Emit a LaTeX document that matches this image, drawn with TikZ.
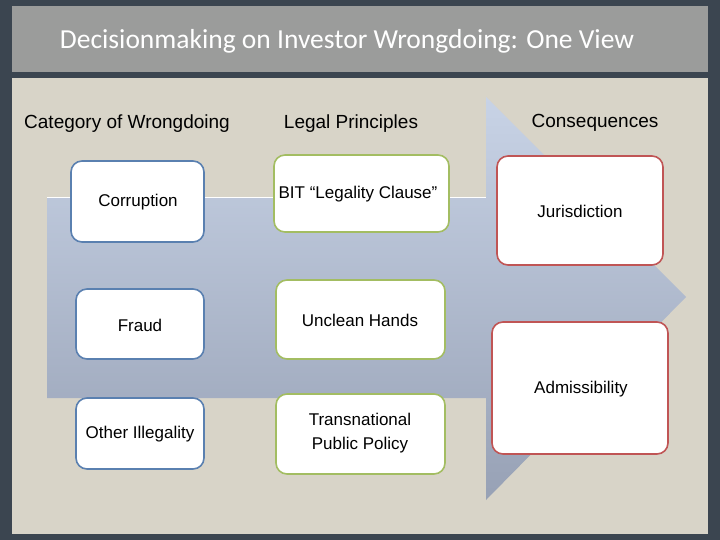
\documentclass[tikz,border=0pt]{standalone}
\usepackage{fontspec}
\setmainfont{Liberation Sans}
\newfontfamily\titlefont{Carlito}
\definecolor{frame}{HTML}{3B4550}
\definecolor{titlebar}{HTML}{9B9C9B}
\definecolor{content}{HTML}{D8D4C8}
\definecolor{arrtop}{HTML}{C8D3E6}
\definecolor{arrbot}{HTML}{97A1B5}
\definecolor{bblue}{HTML}{5A80B0}
\definecolor{bgreen}{HTML}{A3BD62}
\definecolor{bred}{HTML}{C05555}
\tikzset{
 box/.style={draw, line width=1.6pt, fill=white, rounded corners=11pt},
 lbl/.style={font=\fontsize{17}{20}\selectfont, align=center},
 hdr/.style={font=\fontsize{19}{22}\selectfont},
}
\begin{document}
\begin{tikzpicture}[x=1pt,y=-1pt]
\fill[frame] (0,0) rectangle (720,540);
\fill[titlebar] (12,6) rectangle (708,72);
\fill[content] (12,78) rectangle (708,534);
\node[text=white, font=\titlefont\fontsize{27.5}{32}\selectfont] (title) at (347,41) {Decisionmaking on Investor Wrongdoing: One View};
\shade[top color=arrtop, bottom color=arrbot] (47,198) -- (486,198) -- (486,97) -- (686,297) -- (486,500) -- (486,398) -- (47,398) -- cycle;
\draw[white, line width=1pt] (47,198) -- (486,198);
\node[hdr] (h1) at (127,124) {Category of Wrongdoing};
\node[hdr] (h2) at (351,124) {Legal Principles};
\node[hdr] (h3) at (595,123) {Consequences};
\draw[box, draw=bblue] (71,161) rectangle (204,242);
\node[lbl] (c1) at (138,202) {Corruption};
\draw[box, draw=bblue] (76,289) rectangle (204,359);
\node[lbl] (c2) at (140,325) {Fraud};
\draw[box, draw=bblue] (76,398) rectangle (204,469);
\node[lbl] (c3) at (140,434) {Other Illegality};
\draw[box, draw=bgreen] (274,155) rectangle (449,232);
\node[lbl] (l1) at (358,194) {BIT ``Legality Clause''};
\draw[box, draw=bgreen] (276,280) rectangle (445,359);
\node[lbl] (l2) at (360,320) {Unclean Hands};
\draw[box, draw=bgreen] (276,394) rectangle (445,474);
\node[lbl, font=\fontsize{17}{24}\selectfont] (l3) at (360,433) {Transnational\\Public Policy};
\draw[box, draw=bred] (497,156) rectangle (663,265);
\node[lbl] (r1) at (580,211) {Jurisdiction};
\draw[box, draw=bred] (492,322) rectangle (668,454);
\node[lbl] (r2) at (581,389) {Admissibility};
\end{tikzpicture}
\end{document}
